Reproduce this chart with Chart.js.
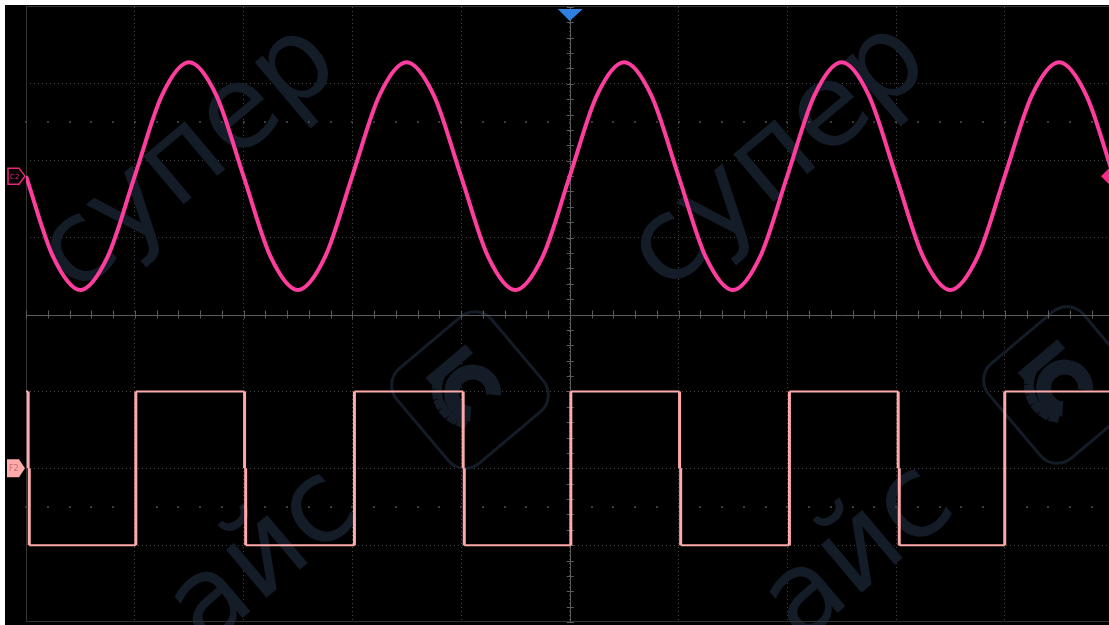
<!DOCTYPE html>
<html lang="en">
  <head>
    <meta charset="UTF-8" />
    <title>Scope capture C2 / F2</title>
    <script src="https://cdn.jsdelivr.net/npm/chart.js"></script>
    <style>
      body {
        margin: 0;
        background: #fff;
      }
      #wrap {
        width: 1109px;
        height: 625px;
        overflow: hidden;
        position: relative;
      }
      canvas {
        position: absolute;
        left: 0;
        top: 0;
      }
    </style>
  </head>
  <body>
    <div id="wrap"><canvas id="scope" width="1130" height="625"></canvas></div>
    <script>
      // time in divisions (10 across), level in divisions (+-4 around centre)
      const sineT = [
        0, 0.25, 0.5, 0.75, 1, 1.25, 1.5, 1.75, 2, 2.25, 2.5, 2.75, 3, 3.25,
        3.5, 3.75, 4, 4.25, 4.5, 4.75, 5, 5.25, 5.5, 5.75, 6, 6.25, 6.5, 6.75,
        7, 7.25, 7.5, 7.75, 8, 8.25, 8.5, 8.75, 9, 9.25, 9.5, 9.75, 10,
      ];
      const sineV = [
        1.8, 0.75, 0.32, 0.75, 1.8, 2.85, 3.28, 2.85, 1.8, 0.75, 0.32, 0.75,
        1.8, 2.85, 3.28, 2.85, 1.8, 0.75, 0.32, 0.75, 1.8, 2.85, 3.28, 2.85,
        1.8, 0.75, 0.32, 0.75, 1.8, 2.85, 3.28, 2.85, 1.8, 0.75, 0.32, 0.75,
        1.8, 2.85, 3.28, 2.85, 1.8,
      ];
      const squareT = [
        0, 0.02, 0.02, 0.03, 0.03, 1.01, 1.01, 2.01, 2.01, 2.02, 2.02, 3.02,
        3.02, 4.02, 4.02, 4.03, 4.03, 5.01, 5.01, 6.01, 6.01, 6.02, 6.02, 7.02,
        7.02, 8.02, 8.02, 8.03, 8.03, 9.0, 9.0, 10,
      ];
      const squareV = [
        -1, -1, -2, -2, -3, -3, -1, -1, -2, -2, -3, -3, -1, -1, -2, -2, -3, -3,
        -1, -1, -2, -2, -3, -3, -1, -1, -2, -2, -3, -3, -1, -1,
      ];
      const sineOffset = 1.8; // C2 ground marker level
      const squareOffset = -2; // F2 marker level

      const toPts = (t, v) => t.map((x, i) => ({ x, y: v[i] }));

      const scopeBg = {
        id: "scopeBg",
        beforeDraw(chart) {
          const c = chart.ctx;
          c.save();
          c.fillStyle = "#fff";
          c.fillRect(0, 0, chart.width, chart.height);
          c.fillStyle = "#000";
          c.fillRect(5, 5, chart.width, chart.height);
          c.restore();
        },
      };

      const wmColor = "#141c27";

      function gear(c, cx, cy, ang) {
        c.save();
        c.translate(cx, cy);
        c.rotate(ang);
        c.strokeStyle = wmColor;
        c.lineWidth = 3;
        const s = 62, r = 22;
        c.beginPath();
        c.roundRect(-s, -s, 2 * s, 2 * s, r);
        c.stroke();
        c.fillStyle = wmColor;
        c.lineWidth = 15;
        c.beginPath();
        c.arc(0, 4, 21, Math.PI * 0.75, Math.PI * 2.25);
        c.stroke();
        for (let k = 0; k < 7; k++) {
          const a = Math.PI * 0.8 + k * 0.3;
          c.save();
          c.rotate(a);
          c.fillRect(28, -5, 10, 10);
          c.restore();
        }
        c.fillRect(-26, -38, 52, 12);
        c.restore();
      }

      const watermark = {
        id: "watermark",
        beforeDatasetsDraw(chart) {
          const c = chart.ctx;
          c.save();
          c.fillStyle = wmColor;
          c.font = '115px "DejaVu Sans"';
          c.textAlign = "center";
          c.textBaseline = "middle";
          const ang = -0.7;
          const spots = [
            ["супер", 190, 160],
            ["айс", 265, 560],
            ["супер", 780, 158],
            ["айс", 860, 555],
          ];
          for (const [txt, x, y] of spots) {
            c.save();
            c.translate(x, y);
            c.rotate(ang);
            c.fillText(txt, 0, 0);
            c.restore();
          }
          c.restore();
          gear(c, 470, 390, ang);
          gear(c, 1062, 385, ang);
        },
      };

      const axes = {
        id: "axes",
        beforeDatasetsDraw(chart) {
          const c = chart.ctx;
          const xs = chart.scales.x, ys = chart.scales.y;
          const a = chart.chartArea;
          const x0 = xs.getPixelForValue(5);
          const y0 = ys.getPixelForValue(0);
          c.save();
          // frame
          c.strokeStyle = "#333";
          c.lineWidth = 1;
          c.beginPath();
          c.moveTo(a.left + 0.5, a.top);
          c.lineTo(a.left + 0.5, a.bottom);
          c.moveTo(a.left, a.bottom - 0.5);
          c.lineTo(a.right, a.bottom - 0.5);
          c.moveTo(a.left, a.top - 0.5);
          c.lineTo(a.right, a.top - 0.5);
          c.stroke();
          // centre cross with minor ticks
          c.strokeStyle = "#5c5c5c";
          c.beginPath();
          c.moveTo(a.left, Math.round(y0) + 0.5);
          c.lineTo(a.right, Math.round(y0) + 0.5);
          c.moveTo(Math.round(x0) + 0.5, a.top);
          c.lineTo(Math.round(x0) + 0.5, a.bottom);
          for (let i = 0; i <= 50; i++) {
            const px = Math.round(xs.getPixelForValue(i * 0.2)) + 0.5;
            c.moveTo(px, y0 - 4);
            c.lineTo(px, y0 + 4);
          }
          for (let i = 0; i <= 40; i++) {
            const py = Math.round(ys.getPixelForValue(-4 + i * 0.2)) + 0.5;
            c.moveTo(x0 - 3, py);
            c.lineTo(x0 + 4, py);
          }
          c.stroke();
          // sparse half-division dots
          c.fillStyle = "#3c3c3c";
          for (const lv of [2.5, -2.5]) {
            const py = Math.round(ys.getPixelForValue(lv));
            for (let i = 0; i <= 50; i++) {
              const px = Math.round(xs.getPixelForValue(i * 0.2));
              c.fillRect(px - 1, py - 1, 2, 2);
            }
          }
          c.restore();
        },
      };

      const markers = {
        id: "markers",
        afterDraw(chart) {
          const c = chart.ctx;
          const ys = chart.scales.y;
          const x0 = chart.scales.x.getPixelForValue(5);
          const ySin = ys.getPixelForValue(sineOffset);
          const ySq = ys.getPixelForValue(squareOffset);
          c.save();
          // trigger position
          c.fillStyle = "#2f7fe0";
          c.beginPath();
          c.moveTo(x0 - 12, 9);
          c.lineTo(x0 + 13, 9);
          c.lineTo(x0, 21);
          c.closePath();
          c.fill();
          // C2 level tag
          c.strokeStyle = "#e8287c";
          c.lineWidth = 1.5;
          c.beginPath();
          c.moveTo(8, ySin - 8);
          c.lineTo(19, ySin - 8);
          c.lineTo(25, ySin);
          c.lineTo(19, ySin + 8);
          c.lineTo(8, ySin + 8);
          c.closePath();
          c.stroke();
          c.fillStyle = "#e8287c";
          c.font = '7px "DejaVu Sans"';
          c.textBaseline = "middle";
          c.fillText("C2", 10, ySin + 1);
          // F2 level tag
          c.fillStyle = "#ffaaaa";
          c.beginPath();
          c.moveTo(7, ySq - 9);
          c.lineTo(19, ySq - 9);
          c.lineTo(25, ySq);
          c.lineTo(19, ySq + 9);
          c.lineTo(7, ySq + 9);
          c.closePath();
          c.fill();
          c.fillStyle = "#c86a6a";
          c.font = '8px "DejaVu Sans"';
          c.fillText("F2", 9, ySq + 1);
          // trigger level
          c.fillStyle = "#ff2a8a";
          c.beginPath();
          c.moveTo(1101, ySin);
          c.lineTo(1109, ySin - 8);
          c.lineTo(1117, ySin);
          c.lineTo(1109, ySin + 8);
          c.closePath();
          c.fill();
          c.restore();
        },
      };

      new Chart(document.getElementById("scope"), {
        type: "line",
        data: {
          datasets: [
            {
              label: "C2",
              data: toPts(sineT, sineV),
              borderColor: "#ff3d9e",
              borderWidth: 4,
              pointRadius: 0,
              cubicInterpolationMode: "monotone",
            },
            {
              label: "F2",
              data: toPts(squareT, squareV),
              borderColor: "#ffaaaa",
              borderWidth: 2,
              pointRadius: 0,
              tension: 0,
              segment: {
                borderWidth: (ctx) =>
                  ctx.p0.parsed.x === ctx.p1.parsed.x ? 3 : 2,
              },
            },
          ],
        },
        options: {
          responsive: false,
          animation: false,
          events: [],
          devicePixelRatio: 1,
          layout: { padding: { left: 26, top: 7, right: 16.5, bottom: 3 } },
          plugins: { legend: { display: false }, tooltip: { enabled: false } },
          scales: {
            x: {
              type: "linear",
              min: 0,
              max: 10,
              ticks: { display: false, stepSize: 1 },
              grid: {
                color: (ctx) => (ctx.index === 0 ? "rgba(0,0,0,0)" : "#454545"),
                lineWidth: 1,
                drawTicks: false,
              },
              border: { display: false, dash: [1, 3] },
            },
            y: {
              type: "linear",
              min: -4,
              max: 4,
              ticks: { display: false, stepSize: 1 },
              grid: {
                color: (ctx) =>
                  [0, -4, 4].includes(ctx.tick.value)
                    ? "rgba(0,0,0,0)"
                    : "#454545",
                lineWidth: 1,
                drawTicks: false,
              },
              border: { display: false, dash: [1, 3] },
            },
          },
        },
        plugins: [scopeBg, watermark, axes, markers],
      });
    </script>
  </body>
</html>
